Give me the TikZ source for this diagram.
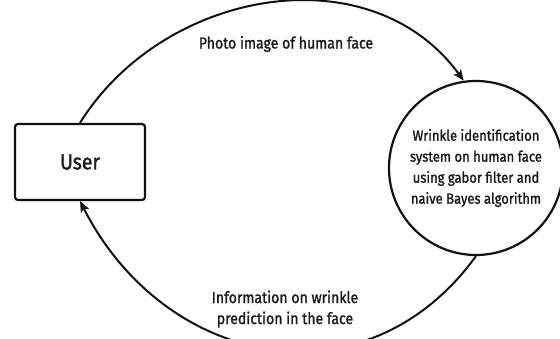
\documentclass[tikz,border=0pt]{standalone}
\usepackage{fontspec}
\setmainfont{Fira Sans}[FakeStretch=0.88, FakeBold=1.4]
\usepackage{tikz}
\usetikzlibrary{
  arrows.meta,
  shapes,
  shapes.geometric,
  positioning,
  calc
}
\definecolor{dfdLine}{HTML}{111111}
\definecolor{dfdText}{HTML}{1A1A1A}

\begin{document}
\begin{tikzpicture}[x=1pt, y=1pt, font=\fontsize{16}{21}\selectfont, text=dfdText,
  entity/.style={draw=dfdLine, line width=2.2pt, rounded corners=3pt, minimum width=130pt, minimum height=76pt},
  proc/.style={draw=dfdLine, line width=2.2pt, circle, minimum size=174pt, inner sep=0pt, align=center, font=\fontsize{14.8}{21}\selectfont},
  flow/.style={draw=dfdLine, line width=2pt, -{Stealth[length=11pt, width=9pt, inset=2.5pt]}},
  flowlbl/.style={align=center}]
  \useasboundingbox (0,0) rectangle (560,338);
  \node[entity] (user) at (80,176) {\fontsize{22}{26}\selectfont User};
  \node[proc] (sys) at (476,170) {Wrinkle identification\\system on human face\\using gabor filter and\\naive Bayes algorithm};
  \draw[flow] (user.north) to[out=58, in=126, looseness=1.05] (sys.98);
  \draw[flow] (sys.south) to[out=234, in=297, looseness=1.2] (user.south);
  \node[flowlbl] (inlbl) at (286,294) {Photo image of human face};
  \node[flowlbl] (outlbl) at (285,29) {Information on wrinkle\\prediction in the face};
\end{tikzpicture}
\end{document}
